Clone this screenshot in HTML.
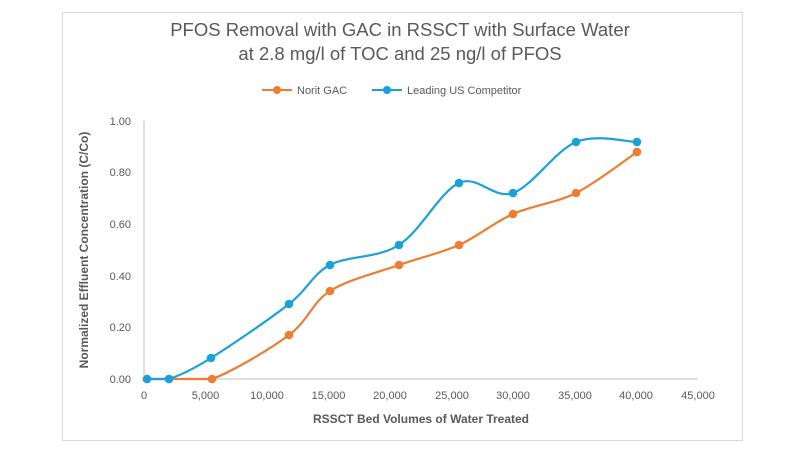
<!DOCTYPE html>
<html><head><meta charset="utf-8"><style>
body{margin:0;background:#fff;}
svg{display:block;font-family:"Liberation Sans",Arial,sans-serif;}
</style></head><body>
<svg id="s" width="800" height="450" viewBox="0 0 800 450">
<rect x="62.5" y="12.5" width="680" height="428" fill="#fff" stroke="#d9d9d9"/>
<text x="400" y="36" text-anchor="middle" font-size="18.5" fill="#595959">PFOS Removal with GAC in RSSCT with Surface Water</text>
<text x="400" y="60" text-anchor="middle" font-size="18.5" fill="#595959">at 2.8 mg/l of TOC and  25 ng/l of PFOS</text>
<line x1="262" y1="90" x2="292" y2="90" stroke="#ed7d31" stroke-width="2"/><circle cx="277" cy="90" r="4" fill="#ed7d31"/>
<text x="297" y="94" font-size="11" fill="#595959">Norit GAC</text>
<line x1="372" y1="90" x2="402" y2="90" stroke="#1ba1d9" stroke-width="2"/><circle cx="387" cy="90" r="4" fill="#1ba1d9"/>
<text x="407" y="94" font-size="11" fill="#595959">Leading US Competitor</text>
<line x1="144" y1="121" x2="144" y2="379" stroke="#bfbfbf"/>
<line x1="144" y1="379" x2="698" y2="379" stroke="#bfbfbf"/>
<g font-size="11" fill="#595959" text-anchor="end">
<text x="131" y="383">0.00</text><text x="131" y="331">0.20</text><text x="131" y="280">0.40</text>
<text x="131" y="228">0.60</text><text x="131" y="176">0.80</text><text x="131" y="125">1.00</text>
</g>
<g font-size="11" fill="#595959" text-anchor="middle">
<text x="144" y="399">0</text><text x="205.5" y="399">5,000</text><text x="267" y="399">10,000</text>
<text x="328.5" y="399">15,000</text><text x="390" y="399">20,000</text><text x="452" y="399">25,000</text>
<text x="513" y="399">30,000</text><text x="575" y="399">35,000</text><text x="636" y="399">40,000</text><text x="698" y="399">45,000</text>
</g>
<text x="421" y="423" text-anchor="middle" font-size="12" font-weight="bold" fill="#595959">RSSCT Bed Volumes of Water Treated</text>
<text transform="translate(88,250) rotate(-90)" text-anchor="middle" font-size="12" font-weight="bold" fill="#595959">Normalized Effluent Concentration  (C/Co)</text>
<g id="series"></g>
</svg>
<script>
var A=[[147,379],[169,379],[212,379],[289,335],[330,291],[399,265],[459,245],[513,214],[576,193],[637,152]];
var B=[[147,379],[169,379],[211,358],[289,304],[330,265],[399,245],[459,183],[513,193],[576,142],[637,142]];
function c(y){return Math.min(y,379);}
function path(p){var d="M"+p[0][0]+","+p[0][1];for(var i=0;i<p.length-1;i++){var p0=p[i-1]||p[i],p1=p[i],p2=p[i+1],p3=p[i+2]||p2,t=6;
d+=" C"+(p1[0]+(p2[0]-p0[0])/t)+","+c(p1[1]+(p2[1]-p0[1])/t)+" "+(p2[0]-(p3[0]-p1[0])/t)+","+c(p2[1]-(p3[1]-p1[1])/t)+" "+p2[0]+","+p2[1];}return d;}
var g=document.getElementById("series"),h="";
[[A,"#ed7d31"],[B,"#1ba1d9"]].forEach(function(s){h+='<path d="'+path(s[0])+'" fill="none" stroke="'+s[1]+'" stroke-width="2.2"/>';
s[0].forEach(function(q){h+='<circle cx="'+q[0]+'" cy="'+q[1]+'" r="4.3" fill="'+s[1]+'"/>';});});
g.innerHTML=h;
</script>
</body></html>
